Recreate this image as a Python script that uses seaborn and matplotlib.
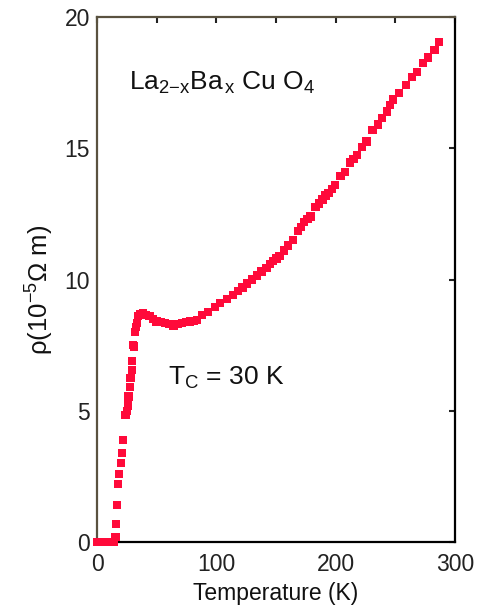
import matplotlib
matplotlib.use("Agg")
import matplotlib.pyplot as plt
import pandas as pd
import seaborn as sns
from matplotlib.ticker import MultipleLocator

# Resistivity of La(2-x)Ba(x)CuO4 vs temperature
temperature = [0, 2, 4, 6, 8, 10, 12, 14, 15.5, 16, 16.8, 17.6, 18.5, 20, 21,
               22, 24, 25, 26, 26.5, 27.6, 28, 29.6, 29.5, 30, 31, 32, 32.5,
               33.5, 34.5, 36.5, 38.5, 41, 44, 47, 50, 53.5, 57, 60.5, 64,
               67.5, 71, 74.5, 78, 81, 84, 88, 93, 99, 103, 109, 114, 118, 122,
               126, 130, 134, 138, 142, 145, 147.5, 150.5, 153, 156.5, 160,
               164, 168.5, 171, 173.5, 176.5, 179, 183, 186, 189, 191.5, 194,
               197, 199.5, 204, 208, 212, 215, 218, 222, 226, 231, 235.5, 239,
               243, 245.5, 248, 253, 259, 264, 268, 273, 277.5, 283, 286.5]
resistivity = [0, 0, 0, 0, 0, 0, 0, 0, 0.2, 0.7, 1.4, 2.2, 2.6, 3.0, 3.4, 3.9,
               4.85, 5.0, 5.2, 5.55, 5.9, 6.25, 6.55, 6.9, 7.5, 7.45, 8.0, 8.2,
               8.35, 8.6, 8.68, 8.7, 8.65, 8.6, 8.5, 8.4, 8.38, 8.35, 8.3,
               8.25, 8.3, 8.35, 8.38, 8.4, 8.42, 8.45, 8.65, 8.75, 8.95, 9.1,
               9.25, 9.4, 9.55, 9.7, 9.85, 10.0, 10.15, 10.3, 10.45, 10.6,
               10.7, 10.8, 10.9, 11.1, 11.3, 11.5, 11.85, 12.0, 12.2, 12.3,
               12.4, 12.75, 12.9, 13.05, 13.2, 13.3, 13.45, 13.6, 13.95, 14.1,
               14.45, 14.6, 14.75, 15.05, 15.25, 15.7, 15.9, 16.15, 16.4,
               16.65, 16.85, 17.1, 17.4, 17.7, 17.9, 18.25, 18.45, 18.75,
               19.05]

x_ticks = [0, 100, 200, 300]
y_ticks = [0, 5, 10, 15, 20]

sns.set_style("white")
plt.rcParams["font.family"] = ["Liberation Sans", "DejaVu Sans"]
plt.rcParams["mathtext.fontset"] = "custom"
plt.rcParams["mathtext.rm"] = "Liberation Sans"
plt.rcParams["mathtext.it"] = "Liberation Sans"

df = pd.DataFrame({"T": temperature, "rho": resistivity})

fig = plt.figure(figsize=(4.85, 6.05), dpi=100)
ax = fig.add_axes([0.2, 0.104, 0.738, 0.868])

sns.scatterplot(data=df, x="T", y="rho", ax=ax, marker="s", s=36,
                color="#ff0a3a", edgecolor="none", linewidth=0, zorder=3,
                clip_on=False)

ax.set_xlim(0, 300)
ax.set_ylim(0, 20)
ax.set_xticks(x_ticks)
ax.set_yticks(y_ticks)
ax.xaxis.set_minor_locator(MultipleLocator(50))
ax.tick_params(axis="both", which="both", direction="in", top=True,
               right=True, length=4, width=1.5, labelsize=16.5, colors="#222")
ax.tick_params(axis="x", pad=8)
ax.tick_params(axis="y", pad=5)

for side in ["left", "top"]:
    ax.spines[side].set_color("#5a5240")
for side in ["bottom", "right"]:
    ax.spines[side].set_color("black")
for sp in ax.spines.values():
    sp.set_linewidth(1.6)

ax.set_xlabel("Temperature (K)", fontsize=16.5, labelpad=4, color="#111")
ax.set_ylabel(r"$\rho$(10$^{-5}$$\Omega$ m)", fontsize=18.5, color="#111")
ax.yaxis.set_label_coords(-0.115, 0.48)

ax.text(0.09, 0.862, r"La$_{2\mathrm{-}x}$Ba$_{\,x}$ Cu O$_4$",
        transform=ax.transAxes, fontsize=19, color="#111")
ax.text(0.198, 0.3, r"T$_C$ = 30 K", transform=ax.transAxes, fontsize=19,
        color="#111")

fig.savefig("out.png", dpi=100)
